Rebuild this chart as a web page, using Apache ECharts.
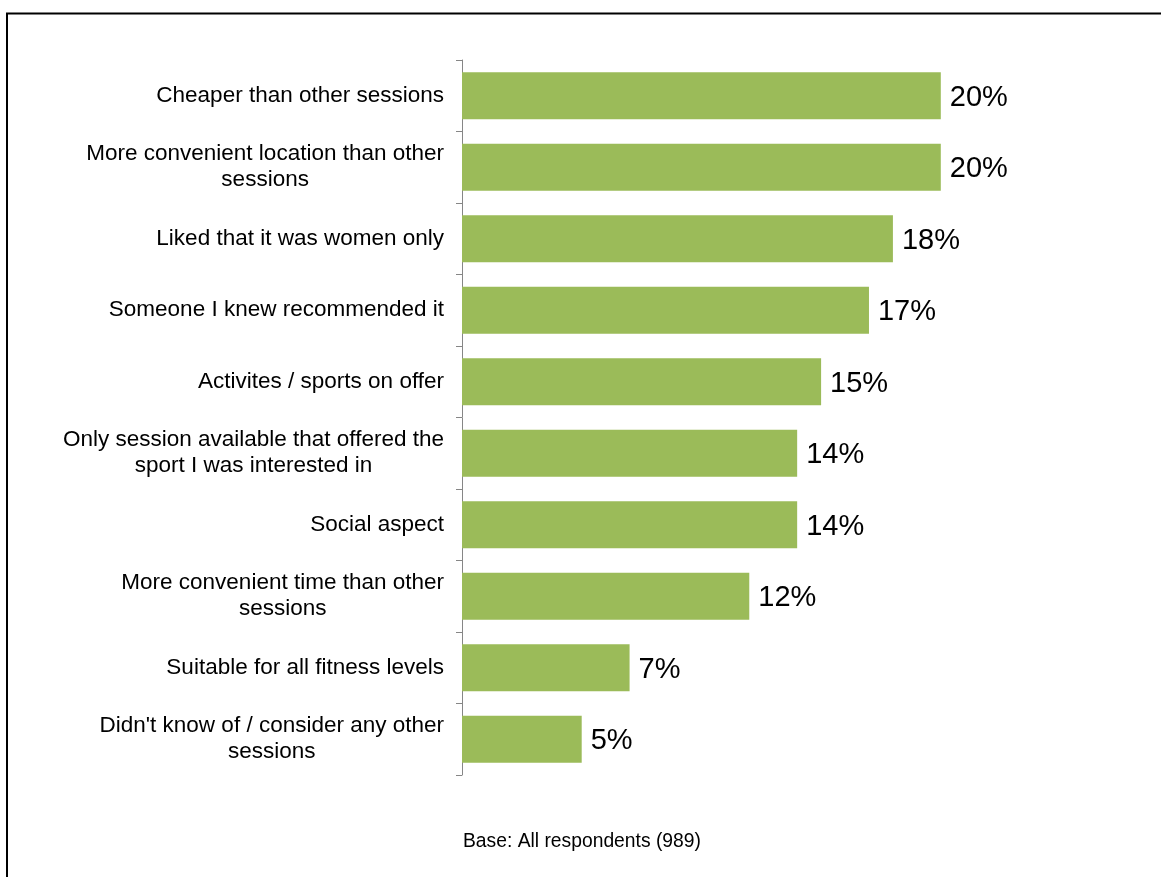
<!DOCTYPE html>
<html>
<head>
<meta charset="utf-8">
<script src="https://cdn.jsdelivr.net/npm/echarts@6/dist/echarts.min.js"></script>
<style>
  html, body { margin: 0; padding: 0; background: #fff; }
  #chart { width: 1161px; height: 877px; }
</style>
</head>
<body>
<div id="chart"></div>
<script>
// reasons for choosing the session, top to bottom
const categories = [
  "Cheaper than other sessions",
  "More convenient location than other\nsessions",
  "Liked that it was women only",
  "Someone I knew recommended it",
  "Activites / sports on offer",
  "Only session available that offered the\nsport I was interested in",
  "Social aspect",
  "More convenient time than other\nsessions",
  "Suitable for all fitness levels",
  "Didn't know of / consider any other\nsessions"
];
const values = [20, 20, 18, 17, 15, 14, 14, 12, 7, 5];
const baseNote = "Base: All respondents (989)";

const font = "'Liberation Sans', Arial, sans-serif";
const chart = echarts.init(document.getElementById("chart"));

chart.setOption({
  backgroundColor: "#fff",
  animation: false,
  grid: {
    left: 462,
    top: 60,
    bottom: 102,
    right: 100.5,
    containLabel: false
  },
  xAxis: {
    type: "value",
    min: 0,
    max: 25,
    show: false
  },
  yAxis: {
    type: "category",
    inverse: true,
    data: categories,
    axisLine: { show: true, lineStyle: { color: "#868686", width: 1 } },
    axisTick: { show: true, length: 6, lineStyle: { color: "#868686" } },
    splitLine: { show: false },
    axisLabel: {
      margin: 18,
      align: "right",
      formatter: (v) => v.split("\n").map((s) => "{c|" + s + "}").join("\n"),
      rich: {
        c: {
          align: "center",
          fontSize: 22.5,
          lineHeight: 26,
          color: "#000",
          fontFamily: font
        }
      }
    }
  },
  series: [
    {
      type: "bar",
      data: values,
      barCategoryGap: "34%",
      itemStyle: { color: "#9BBB59" },
      label: {
        show: true,
        position: "right",
        distance: 9,
        offset: [0, 2],
        formatter: "{c}%",
        fontSize: 29,
        color: "#000",
        fontFamily: font
      }
    }
  ],
  graphic: [
    {
      type: "rect",
      shape: { x: 7, y: 13.5, width: 1200, height: 900 },
      style: { fill: "none", stroke: "#000", lineWidth: 2 },
      silent: true
    },
    {
      type: "text",
      left: 463,
      top: 832,
      style: {
        text: baseNote,
        fontSize: 19.3,
        fill: "#000",
        fontFamily: font
      }
    }
  ]
});
</script>
</body>
</html>
